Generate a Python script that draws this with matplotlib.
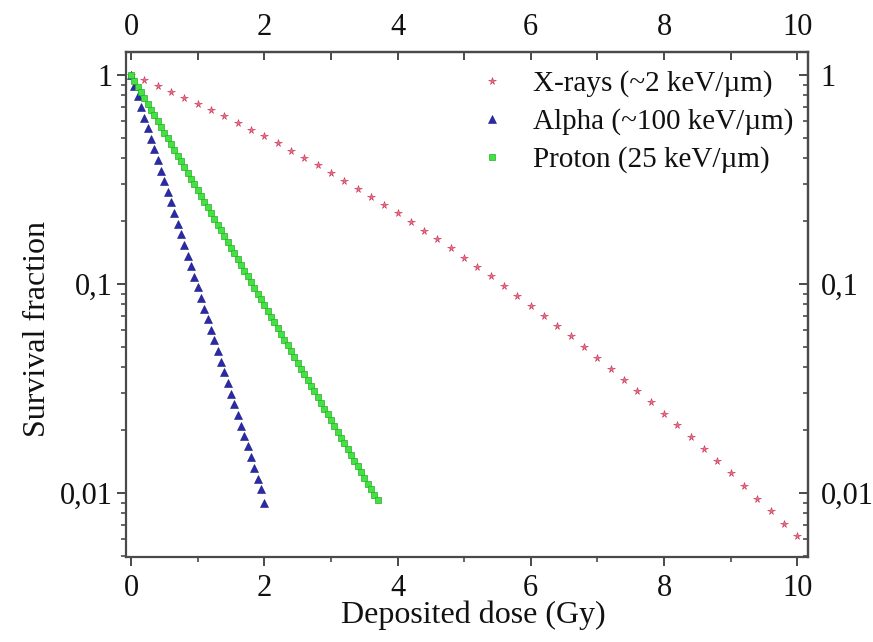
"""
Survival fraction vs deposited dose for three radiation types.
Writes out.png.
"""

import matplotlib

matplotlib.use("Agg")
import matplotlib.pyplot as plt
from matplotlib.ticker import FixedLocator, MultipleLocator, LogLocator, NullFormatter

# X-rays (~2 keV/um), every 0.2 Gy
xray_dose = [round(0.2 * i, 1) for i in range(51)]
xray_surv = [
    1.0, 0.9418, 0.8854, 0.8310, 0.7786, 0.7283, 0.6800, 0.6339, 0.5899, 0.5480,
    0.5082, 0.4705, 0.4349, 0.4013, 0.3696, 0.3399, 0.3120, 0.2860, 0.2616, 0.2389,
    0.2179, 0.1983, 0.1802, 0.1634, 0.1480, 0.1338, 0.1207, 0.1088, 0.0978, 0.0878,
    0.0787, 0.0704, 0.0630, 0.0561, 0.0500, 0.0444, 0.0394, 0.0349, 0.0309, 0.0272,
    0.0240, 0.0211, 0.0186, 0.0163, 0.0142, 0.0124, 0.0108, 0.0094, 0.0082, 0.0071,
    0.0062,
]

# Alpha (~100 keV/um), every 0.05 Gy
alpha_dose = [round(0.05 * i, 2) for i in range(41)]
alpha_surv = [
    1.0, 0.8896, 0.7914, 0.7040, 0.6263, 0.5572, 0.4956, 0.4409, 0.3922, 0.3489,
    0.3104, 0.2761, 0.2456, 0.2185, 0.1944, 0.1729, 0.1538, 0.1369, 0.1217, 0.1083,
    0.0963, 0.0857, 0.0762, 0.0678, 0.0603, 0.0537, 0.0477, 0.0425, 0.0378, 0.0336,
    0.0299, 0.0266, 0.0237, 0.0210, 0.0187, 0.0167, 0.0148, 0.0132, 0.0117, 0.0104,
    0.0090,
]

# Proton (25 keV/um), every 0.05 Gy
proton_dose = [round(0.05 * i, 2) for i in range(75)]
proton_surv = [
    1.0, 0.9386, 0.8809, 0.8268, 0.7760, 0.7283, 0.6836, 0.6416, 0.6022, 0.5652,
    0.5305, 0.4979, 0.4673, 0.4386, 0.4117, 0.3864, 0.3627, 0.3404, 0.3195, 0.2999,
    0.2814, 0.2641, 0.2479, 0.2327, 0.2184, 0.2049, 0.1924, 0.1805, 0.1695, 0.1590,
    0.1493, 0.1401, 0.1315, 0.1234, 0.1159, 0.1087, 0.1021, 0.0958, 0.0899, 0.0844,
    0.0792, 0.0743, 0.0698, 0.0655, 0.0615, 0.0577, 0.0541, 0.0508, 0.0477, 0.0448,
    0.0420, 0.0394, 0.0370, 0.0347, 0.0326, 0.0306, 0.0287, 0.0270, 0.0253, 0.0238,
    0.0223, 0.0209, 0.0196, 0.0184, 0.0173, 0.0162, 0.0152, 0.0143, 0.0134, 0.0126,
    0.0118, 0.0111, 0.0104, 0.0098, 0.0093,
]

x_ticks = [0, 2, 4, 6, 8, 10]
y_ticks = [1, 0.1, 0.01]
y_tick_labels = ["1", "0,1", "0,01"]

plt.rcParams["font.family"] = ["Liberation Serif", "DejaVu Serif"]
TEXT = "#111111"
SPINE = "#4a4a4a"
TICK_FS = 22
LABEL_FS = 23
LEGEND_FS = 21

fig = plt.figure(figsize=(8.73, 6.42), dpi=100)
ax = fig.add_axes([0.1443, 0.1324, 0.7812, 0.7866])

ax.plot(xray_dose, xray_surv, linestyle="none", marker="*", markersize=5.5,
        color="#ee7088", markeredgecolor="#c83050", markeredgewidth=0.4,
        label="X-rays (~2 keV/\u00b5m)")
ax.plot(alpha_dose, alpha_surv, linestyle="none", marker="^", markersize=5.2,
        color="#2a2aa8", markeredgecolor="#1a1a80", markeredgewidth=0.4,
        label="Alpha (~100 keV/\u00b5m)")
ax.plot(proton_dose, proton_surv, linestyle="none", marker="s", markersize=3.9,
        color="#44e044", markeredgecolor="#22b022", markeredgewidth=0.5,
        label="Proton (25 keV/\u00b5m)")

ax.set_yscale("log")
ax.set_xlim(-0.075, 10.16)
ax.set_ylim(0.00494, 1.289)

ax.xaxis.set_major_locator(FixedLocator(x_ticks))
ax.xaxis.set_minor_locator(MultipleLocator(1))
ax.yaxis.set_major_locator(FixedLocator(y_ticks))
ax.set_yticklabels(y_tick_labels)
ax.yaxis.set_minor_locator(LogLocator(base=10, subs=range(2, 10)))
ax.yaxis.set_minor_formatter(NullFormatter())

ax.tick_params(axis="both", which="major", direction="out", length=6.5, width=1.4,
               color=SPINE, labelsize=TICK_FS, labelcolor=TEXT)
ax.tick_params(axis="both", which="minor", direction="out", length=3.8, width=1.2,
               color=SPINE)
ax.tick_params(axis="x", which="major", pad=5.5)
ax.tick_params(axis="y", which="major", pad=3)

for spine in ax.spines.values():
    spine.set_color(SPINE)
    spine.set_linewidth(1.6)

# mirrored axes, ticks pointing inward
top = ax.secondary_xaxis("top")
top.xaxis.set_major_locator(FixedLocator(x_ticks))
top.xaxis.set_minor_locator(MultipleLocator(1))
top.tick_params(which="both", direction="in", length=6, width=1.4, color=SPINE,
                labelsize=TICK_FS, labelcolor=TEXT, pad=7)
top.spines["top"].set_color(SPINE)
top.spines["top"].set_linewidth(1.6)

right = ax.secondary_yaxis("right")
right.yaxis.set_major_locator(FixedLocator(y_ticks))
right.set_yticklabels(y_tick_labels)
right.yaxis.set_minor_locator(LogLocator(base=10, subs=range(2, 10)))
right.yaxis.set_minor_formatter(NullFormatter())
right.tick_params(which="major", direction="in", length=6.5, width=1.4, color=SPINE,
                  labelsize=TICK_FS, labelcolor=TEXT, pad=9)
right.tick_params(which="minor", direction="in", length=3.8, width=1.2, color=SPINE)
right.spines["right"].set_color(SPINE)
right.spines["right"].set_linewidth(1.6)

ax.set_xlabel("Deposited dose (Gy)", fontsize=LABEL_FS, color=TEXT)
ax.xaxis.set_label_coords(0.509, -0.086)
ax.set_ylabel("Survival fraction", fontsize=LABEL_FS, color=TEXT)
ax.yaxis.set_label_coords(-0.1085, 0.451)

ax.legend(loc="upper left", bbox_to_anchor=(0.515, 0.964), frameon=False,
          fontsize=LEGEND_FS, numpoints=1, handlelength=1.0, handletextpad=0.9,
          labelspacing=0.38, borderpad=0, borderaxespad=0, labelcolor=TEXT)

fig.savefig("out.png", dpi=100)
